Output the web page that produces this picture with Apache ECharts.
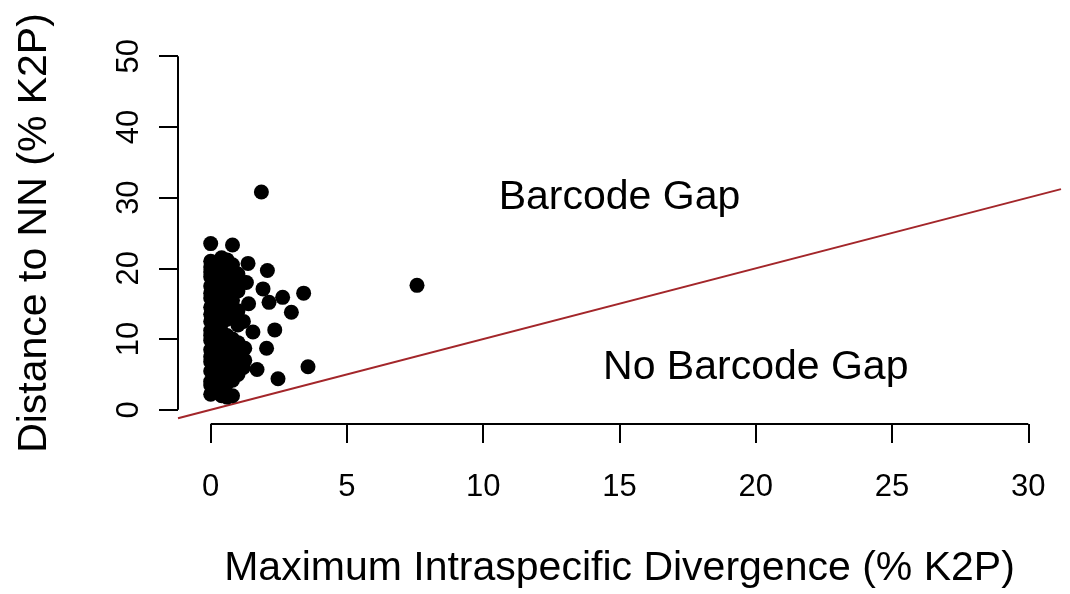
<!DOCTYPE html>
<html>
<head>
<meta charset="utf-8">
<script src="https://cdn.jsdelivr.net/npm/echarts@6/dist/echarts.min.js"></script>
<style>
html,body{margin:0;padding:0;background:#fff;}
#chart{width:1070px;height:594px;}
</style>
</head>
<body>
<div id="chart"></div>
<script>
// ---- data ----
var xTicks = [0, 5, 10, 15, 20, 25, 30];
var yTicks = [0, 10, 20, 30, 40, 50];
var xTitle = 'Maximum Intraspecific Divergence (% K2P)';
var yTitle = 'Distance to NN (% K2P)';
// max intraspecific divergence (x) and distance to nearest neighbour (y)
var divX = [
  0,0,0,0,0,0,0,0,0,0,0,0,0,0,0,0,0,0,0,0,0,
  0.2,0.2,0.2,0.2,0.2,0.2,0.2,0.2,0.2,0.2,0.2,0.2,0.2,0.2,
  0.4,0.4,0.4,0.4,0.4,0.4,0.4,0.4,0.4,0.4,0.4,0.4,0.4,0.4,0.4,
  0.6,0.6,0.6,0.6,0.6,0.6,0.6,0.6,0.6,0.6,0.6,0.6,
  0.8,0.8,0.8,0.8,0.8,0.8,0.8,0.8,0.8,0.8,0.8,
  1.0,1.0,1.0,1.0,1.0,1.0,1.0,
  1.2,1.2,1.2,
  1.86,1.37,2.08,1.31,1.92,2.64,3.41,1.39,2.14,2.96,2.35,1.55,1.25,2.05,3.57,1.7,2.47,1.25,7.57
];
var nnY = [
  2.2,3.5,4.0,5.5,6.8,7.5,8.5,9.8,10.5,11.2,12.5,13.5,14.5,15.8,16.5,17.5,18.8,19.5,20.2,21.0,23.5,
  2.8,4.5,6.0,7.2,8.8,10.0,11.8,13.0,14.2,15.5,17.0,18.2,19.6,20.5,
  2.0,3.2,5.0,6.5,8.0,9.5,11.0,12.2,13.8,15.0,16.2,17.8,19.0,20.8,21.5,
  1.8,3.8,5.8,7.0,9.0,10.5,12.8,14.6,16.0,18.5,20.0,21.2,
  2.0,4.2,6.2,7.8,10.0,13.2,15.5,17.2,18.8,20.5,23.3,
  5.0,7.0,9.5,12.0,14.0,16.8,19.2,
  6.0,12.5,18.0,
  30.8,20.7,19.7,18.0,17.1,15.9,16.5,15.0,15.2,13.8,11.3,11.0,8.7,8.7,6.1,5.7,4.4,7.0,17.6
];
// plot region (R style, 4% padding around the axis ranges)
var xRange = [-1.2, 31.2];
var yRange = [-2, 52];
// 1:1 reference line (y = x) across the plot region
var lineX = [-1.2, 31.2];
var lineY = [-1.2, 31.2];
// annotations
var noteText = ['Barcode Gap', 'No Barcode Gap'];
var noteX = [15, 20];
var noteY = [30, 6];

var FONT = '"Liberation Sans", Arial, sans-serif';
var pts = divX.map(function (x, i) { return [x, nnY[i]]; });
var linePts = lineX.map(function (x, i) { return [x, lineY[i]]; });
var notes = noteText.map(function (t, i) { return { name: t, value: [noteX[i], noteY[i]] }; });
// axis segments spanning first to last tick (R axis style)
var xAxisSeg = [[xTicks[0], yRange[0]], [xTicks[xTicks.length - 1], yRange[0]]];
var yAxisSeg = [[xRange[0], yTicks[0]], [xRange[0], yTicks[yTicks.length - 1]]];

var chart = echarts.init(document.getElementById('chart'), null, { renderer: 'canvas' });
chart.setOption({
  animation: false,
  backgroundColor: '#ffffff',
  grid: { left: 178, right: 9, top: 42, bottom: 162, containLabel: false },
  xAxis: {
    type: 'value', min: xRange[0], max: xRange[1],
    splitLine: { show: false },
    axisLine: { show: false, onZero: false },
    axisTick: { show: true, length: 19, customValues: xTicks, lineStyle: { color: '#000', width: 2 } },
    axisLabel: { show: true, customValues: xTicks, margin: 48, fontSize: 31, color: '#000', fontFamily: FONT },
    name: xTitle, nameLocation: 'middle', nameGap: 124,
    nameTextStyle: { fontSize: 41, color: '#000', fontFamily: FONT }
  },
  yAxis: {
    type: 'value', min: yRange[0], max: yRange[1],
    splitLine: { show: false },
    axisLine: { show: false, onZero: false },
    axisTick: { show: true, length: 19, customValues: yTicks, lineStyle: { color: '#000', width: 2 } },
    axisLabel: { show: true, customValues: yTicks, rotate: 90, margin: 33, fontSize: 31, color: '#000', fontFamily: FONT },
    name: yTitle, nameLocation: 'middle', nameGap: 123,
    nameTextStyle: { fontSize: 41, color: '#000', fontFamily: FONT }
  },
  series: [
    {
      type: 'line', data: xAxisSeg, clip: false, symbol: 'none', silent: true,
      lineStyle: { color: '#000', width: 2 }, z: 1
    },
    {
      type: 'line', data: yAxisSeg, clip: false, symbol: 'none', silent: true,
      lineStyle: { color: '#000', width: 2 }, z: 1
    },
    {
      type: 'line', data: linePts, clip: false, symbol: 'none',
      lineStyle: { color: '#a3262a', width: 2 }, z: 2
    },
    {
      type: 'scatter', data: pts, clip: false, symbol: 'circle', symbolSize: 15,
      itemStyle: { color: '#000', opacity: 1 }, z: 3
    },
    {
      type: 'scatter', data: notes, clip: false, symbolSize: 0.01,
      itemStyle: { color: '#000', opacity: 1 },
      label: {
        show: true, position: 'inside', formatter: function (p) { return p.name; },
        fontSize: 41, color: '#000', opacity: 1, textBorderWidth: 0, fontFamily: FONT
      },
      z: 4
    }
  ]
});
</script>
</body>
</html>
